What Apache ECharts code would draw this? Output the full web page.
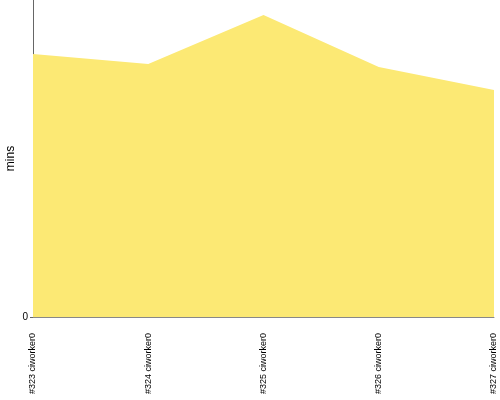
<!DOCTYPE html>
<html><head><meta charset="utf-8">
<script src="https://cdn.jsdelivr.net/npm/echarts@6/dist/echarts.min.js"></script>
<style>html,body{margin:0;padding:0;background:#fff}#c{width:500px;height:400px}</style>
</head><body><div id="c"></div>
<script>
var categories = ['#323 ciworker0', '#324 ciworker0', '#325 ciworker0', '#326 ciworker0', '#327 ciworker0'];
var values = [9.96, 9.58, 11.43, 9.46, 8.59];
var yMax = 12;
var chart = echarts.init(document.getElementById('c'), null, {renderer: 'canvas'});
chart.setOption({
  animation: false,
  grid: {left: 33, right: 6, top: 0, bottom: 83, containLabel: false, outerBoundsMode: 'none'},
  xAxis: {
    type: 'category', data: categories, boundaryGap: false,
    axisLine: {lineStyle: {color: '#888'}},
    axisTick: {show: false},
    axisLabel: {rotate: 90, color: '#000', fontSize: 9, fontFamily: 'Liberation Sans Narrow, Arial, sans-serif', margin: 16, interval: 0, hideOverlap: false}
  },
  yAxis: {
    type: 'value', min: 0, max: yMax, interval: yMax,
    name: 'mins', nameLocation: 'middle', nameGap: 16, nameMoveOverlap: false,
    nameTextStyle: {color: '#000', fontSize: 12, fontFamily: 'Arial, sans-serif'},
    axisLine: {show: true, lineStyle: {color: '#666'}},
    axisTick: {show: true, length: 3, lineStyle: {color: '#666'}, customValues: [0]},
    splitLine: {show: false},
    axisLabel: {color: '#000', fontSize: 10, margin: 5, customValues: [0]}
  },
  series: [{
    type: 'line', data: values, symbol: 'none',
    lineStyle: {width: 0},
    areaStyle: {color: '#fce974', opacity: 1}
  }]
});
</script></body></html>
